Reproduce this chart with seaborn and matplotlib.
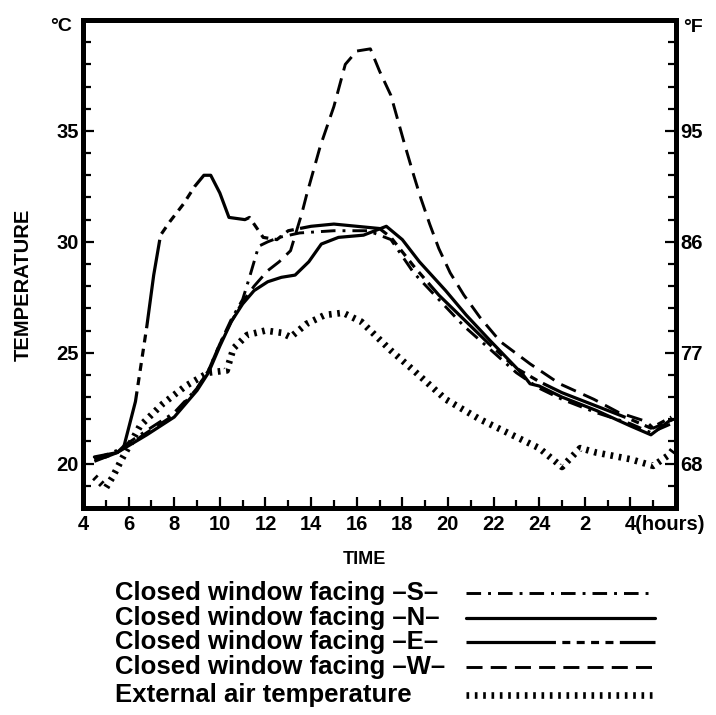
import matplotlib
matplotlib.use("Agg")
import matplotlib.pyplot as plt
import seaborn as sns
from matplotlib.lines import Line2D
from matplotlib.ticker import FixedLocator
from matplotlib.transforms import ScaledTranslation

# ---------------- data (hours since 4 a.m. of day 1; 28 = 4 a.m. next day) ----------------
hours_s = [4.5, 5.5, 6.8, 8.0, 9.0, 9.5, 10.0, 10.5, 11.0, 11.3, 11.7, 12.1, 12.6, 13.5,
           15.0, 16.5, 17.5, 18.5, 19.6, 20.7, 21.8, 23.0, 24.0, 25.0, 26.5, 28.0, 28.9, 29.8]
temp_s = [20.2, 20.6, 21.5, 22.3, 23.4, 24.2, 25.4, 26.5, 27.4, 28.4, 29.8, 30.0, 30.2, 30.4,
          30.5, 30.5, 30.1, 28.6, 27.4, 26.2, 25.2, 24.1, 23.4, 22.9, 22.3, 21.8, 21.4, 21.8]

hours_n = [4.5, 5.5, 6.8, 8.0, 9.0, 9.5, 10.0, 10.5, 11.0, 11.5, 12.1, 12.7, 13.3, 13.9,
           14.45, 15.2, 16.3, 17.3, 18.0, 18.75, 19.9, 20.8, 21.8, 23.3, 23.6, 24.0, 25.0,
           26.5, 28.0, 28.9, 29.8]
temp_n = [20.3, 20.5, 21.3, 22.1, 23.3, 24.1, 25.3, 26.4, 27.2, 27.8, 28.2, 28.4, 28.5, 29.1,
          29.9, 30.2, 30.3, 30.7, 30.1, 29.1, 27.8, 26.7, 25.6, 24.0, 23.6, 23.5, 23.0,
          22.4, 21.7, 21.3, 22.0]

hours_e = [4.5, 5.0, 5.5, 5.8, 6.3, 6.55, 6.8, 7.1, 7.4, 7.8, 8.4, 8.9, 9.3, 9.6, 10.0,
           10.4, 11.1, 11.3, 11.9, 12.5, 13.0, 14.0, 15.0, 16.0, 17.0, 17.5, 18.5, 19.6,
           20.7, 21.8, 23.0, 24.0, 25.0, 26.5, 28.0, 28.9, 29.8]
temp_e = [20.2, 20.3, 20.5, 20.8, 22.8, 24.5, 26.2, 28.5, 30.3, 30.9, 31.7, 32.5, 33.0, 33.0,
          32.2, 31.1, 31.0, 31.1, 30.2, 30.1, 30.5, 30.7, 30.8, 30.7, 30.6, 30.2, 28.9, 27.6,
          26.5, 25.4, 24.3, 23.7, 23.2, 22.6, 22.0, 21.6, 22.1]

hours_w = [4.5, 5.5, 6.8, 8.0, 9.0, 9.5, 10.0, 10.5, 11.0, 11.5, 12.1, 12.6, 13.1, 13.6,
           13.8, 14.4, 15.0, 15.5, 16.0, 16.6, 17.0, 17.5, 18.1, 18.5, 18.8, 19.2, 19.6,
           20.1, 20.7, 21.4, 22.3, 23.6, 24.9, 26.4, 27.5, 28.7, 29.0, 29.9]
temp_w = [20.1, 20.5, 21.4, 22.2, 23.4, 24.2, 25.4, 26.4, 27.3, 28.0, 28.7, 29.1, 29.6, 31.3,
          32.1, 34.3, 36.1, 38.0, 38.6, 38.7, 37.7, 36.6, 34.4, 33.0, 32.0, 30.8, 29.7,
          28.6, 27.6, 26.6, 25.5, 24.5, 23.6, 22.9, 22.3, 21.9, 21.6, 22.0]

hours_ext = [4.5, 5.0, 5.3, 5.7, 6.5, 7.5, 8.5, 9.5, 10.3, 10.6, 11.2, 12.0, 12.7, 13.1,
             13.8, 14.6, 15.4, 16.2, 17.0, 17.5, 18.5, 19.9, 21.4, 22.8, 24.0, 25.0, 25.8,
             26.5, 28.0, 29.0, 29.7, 30.0]
temp_ext = [19.4, 18.9, 19.4, 20.2, 21.7, 22.7, 23.5, 24.1, 24.2, 25.2, 25.8, 26.0, 25.9, 25.7,
            26.3, 26.7, 26.8, 26.4, 25.6, 25.1, 24.2, 22.9, 22.0, 21.3, 20.7, 19.85, 20.7,
            20.5, 20.2, 19.9, 20.4, 20.8]

series_labels = ["Closed window facing \u2013S\u2013",
                 "Closed window facing \u2013N\u2013",
                 "Closed window facing \u2013E\u2013",
                 "Closed window facing \u2013W\u2013",
                 "External air temperature"]

x_major_hours = [4, 6, 8, 10, 12, 14, 16, 18, 20, 22, 24, 26, 28]
x_tick_labels = ["4", "6", "8", "10", "12", "14", "16", "18", "20", "22", "24", "2", "4(hours)"]
x_minor_hours = [5, 7, 9, 11, 13, 15, 17, 19, 21, 23, 25, 27, 29]
c_ticks = [20, 25, 30, 35]
c_tick_labels = ["20", "25", "30", "35"]
f_tick_labels = ["68", "77", "86", "95"]
c_minor = list(range(19, 40))

# ---------------- styling ----------------
sns.set_theme(style="ticks")
plt.rcParams["font.family"] = ["Liberation Sans", "DejaVu Sans"]
plt.rcParams["font.weight"] = "bold"

W, H = 716, 715
fig = plt.figure(figsize=(W / 100, H / 100), dpi=100)
fig.patch.set_facecolor("white")
ax = fig.add_axes([83 / W, 1 - 508 / H, (676 - 83) / W, (508 - 20) / H])
ax.set_facecolor("white")

line_styles = [
    dict(linewidth=2.1, linestyle=(0, (5.0, 2.4, 1.0, 2.4))),                         # S
    dict(linewidth=2.3, linestyle="-"),                                               # N
    dict(linewidth=2.3, linestyle=(0, (28, 2, 2.5, 2, 2.5, 2, 2.5, 2, 2.5, 2))),      # E
    dict(linewidth=2.1, linestyle=(0, (5.5, 2.8))),                                   # W
    dict(linewidth=4.8, linestyle=(0, (0.4, 0.85))),                                  # external
]
series = [(hours_s, temp_s), (hours_n, temp_n), (hours_e, temp_e),
          (hours_w, temp_w), (hours_ext, temp_ext)]

for (hx, ty), st in zip(series, line_styles):
    sns.lineplot(x=hx, y=ty, ax=ax, color="black", dash_capstyle="butt",
                 estimator=None, **st)

ax.set_xlim(4, 30)
ax.set_ylim(18, 40)
ax.set_xlabel("")
ax.set_ylabel("")

ax.set_xticks(x_major_hours, x_tick_labels)
ax.xaxis.set_minor_locator(FixedLocator(x_minor_hours))
ax.set_yticks(c_ticks, c_tick_labels)
ax.yaxis.set_minor_locator(FixedLocator(c_minor))

tick_font = 14.5
ax.tick_params(axis="both", which="both", direction="in", color="black",
               labelcolor="black", width=1.6)
ax.tick_params(axis="both", which="major", length=8, labelsize=tick_font)
ax.tick_params(axis="both", which="minor", length=5.5)
ax.tick_params(axis="x", which="major", pad=5)
ax.tick_params(axis="y", which="major", pad=3)
ax.tick_params(axis="x", which="both", top=False, bottom=True)
ax.tick_params(axis="y", which="both", left=True, right=False)

# right-hand Fahrenheit scale sharing the same vertical positions
ax2 = ax.twinx()
ax2.set_ylim(18, 40)
ax2.set_yticks(c_ticks, f_tick_labels)
ax2.yaxis.set_minor_locator(FixedLocator(c_minor))
ax2.tick_params(axis="y", which="both", direction="in", color="black",
                labelcolor="black", width=1.6, right=True, left=False)
ax2.tick_params(axis="y", which="major", length=8, labelsize=tick_font, pad=3)
ax2.tick_params(axis="y", which="minor", length=5.5)

for a in (ax, ax2):
    for sp in a.spines.values():
        sp.set_visible(True)
        sp.set_color("black")
        sp.set_linewidth(3.6)

for lab in ax.get_xticklabels():
    lab.set_fontweight("bold")
last = ax.get_xticklabels()[-1]
last.set_horizontalalignment("left")
last.set_transform(last.get_transform() + ScaledTranslation(-0.058, 0, fig.dpi_scale_trans))

# unit markers and axis titles
ax.text(-0.018, 0.986, "\u00b0C", transform=ax.transAxes, ha="right", va="center",
        fontsize=14, fontweight="bold", color="black")
ax.text(1.012, 0.984, "\u00b0F", transform=ax.transAxes, ha="left", va="center",
        fontsize=14, fontweight="bold", color="black")
fig.text(23 / W, 1 - 285 / H, "TEMPERATURE", rotation=90, ha="center", va="center",
         fontsize=14.5, fontweight="bold", color="black")
fig.text(364 / W, 1 - 560 / H, "TIME", ha="center", va="center",
         fontsize=13, fontweight="bold", color="black")

# key below the chart: label on the left, line sample on the right
row_y = [593, 618, 642, 667, 695]
for label, st, yy in zip(series_labels, line_styles, row_y):
    yf = 1 - yy / H
    fig.text(115 / W, yf, label, ha="left", va="center", fontsize=18.5,
             fontweight="bold", color="black")
    fig.add_artist(Line2D([466 / W, 655 / W], [yf, yf], transform=fig.transFigure,
                          color="black", dash_capstyle="butt", **st))

fig.savefig("out.png", dpi=100, facecolor="white")
